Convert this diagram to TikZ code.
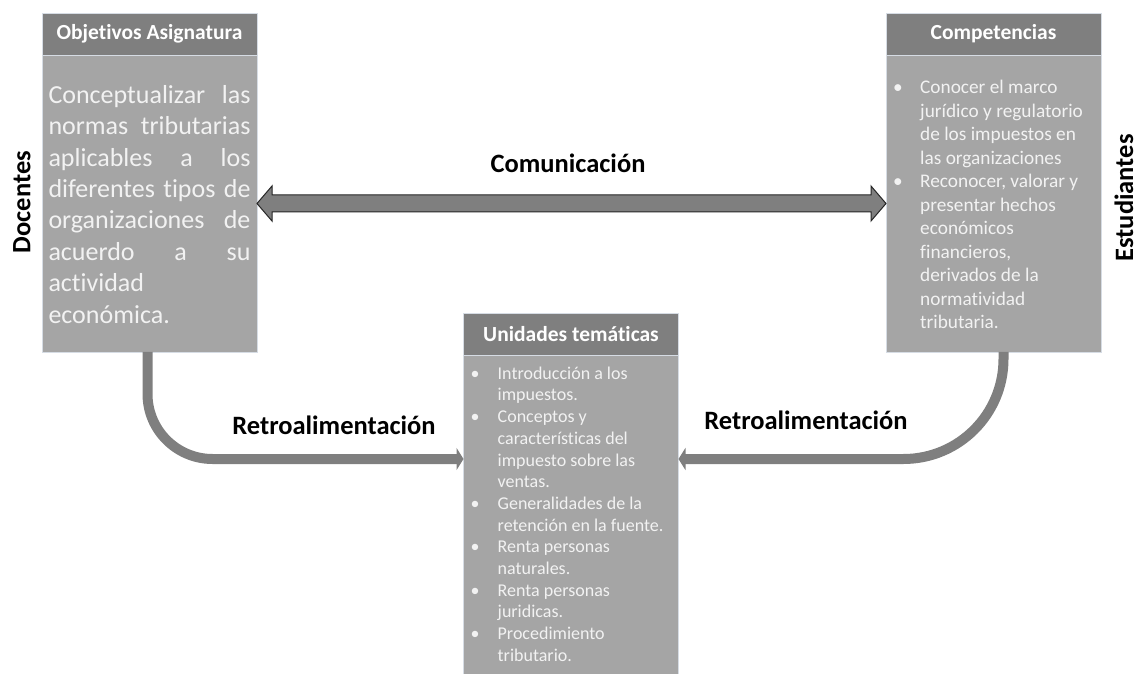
\documentclass[tikz,border=0pt]{standalone}
\usepackage{fontspec}
\setmainfont{Carlito}[Ligatures=NoCommon]
\usetikzlibrary{arrows.meta,positioning,calc}
\definecolor{oscuro}{HTML}{7F7F7F}
\definecolor{claro}{HTML}{A5A5A5}
\definecolor{borde}{HTML}{D6DCE4}
\definecolor{letra}{HTML}{F2F2F2}
\newcommand{\vin}{\makebox[27pt][l]{\textbullet}}
\newcommand{\sig}{\hspace*{27pt}}

\begin{document}
\begin{tikzpicture}[x=1pt,y=1pt,
    cabeza/.style={draw=borde,fill=oscuro,text=white,font=\bfseries\fontsize{21.5}{24}\selectfont,
        minimum width=215pt,minimum height=42pt,inner sep=0pt,outer sep=0pt},
    cuerpo/.style={draw=borde,fill=claro,minimum width=215pt,inner sep=0pt,outer sep=0pt},
    lista/.style={text=letra,align=left,inner sep=0pt,anchor=north west},
    etiqueta/.style={font=\bfseries\fontsize{26.5}{30}\selectfont},
    retro/.style={draw=oscuro,line width=10pt,rounded corners=#1,-{Triangle[length=7pt,width=22pt]}}]
    \useasboundingbox (0,0) rectangle (1138,673);

    \node[cabeza] (objh) at (149.5,639) {Objetivos Asignatura};
    \node[cuerpo,minimum height=297pt,below=0pt of objh] (objc) {};
    \node[text=letra,text width=202pt,align=justify,inner sep=0pt,anchor=north,
        font=\fontsize{26}{31.4}\selectfont] (objt)
        at ([yshift=-30pt]objc.north) {\tolerance=10000 \hyphenpenalty=10000
        Conceptualizar las\linebreak normas tributarias\linebreak
        aplicables a los\linebreak diferentes tipos de\linebreak organizaciones de\linebreak
        acuerdo a su\linebreak actividad\newline económica.};

    \node[cabeza] (comph) at (993.5,639) {Competencias};
    \node[cuerpo,minimum height=297pt,below=0pt of comph] (compc) {};
    \node[lista,font=\fontsize{19.3}{23.5}\selectfont] (compt) at ([xshift=7pt,yshift=-25pt]compc.north west)
        {\vin Conocer el marco\\ \sig jurídico y regulatorio\\ \sig de los impuestos en\\ \sig las organizaciones\\
        \vin Reconocer, valorar y\\ \sig presentar hechos\\ \sig económicos\\ \sig financieros,\\
        \sig derivados de la\\ \sig normatividad\\ \sig tributaria.};

    \node[cabeza] (unih) at (571,339) {Unidades temáticas};
    \node[cuerpo,minimum height=322pt,below=0pt of unih] (unic) {};
    \node[lista,font=\fontsize{18}{21.7}\selectfont] (unit) at ([xshift=7pt,yshift=-11.5pt]unic.north west)
        {\vin Introducción a los\\ \sig impuestos.\\ \vin Conceptos y\\ \sig características del\\
        \sig impuesto sobre las\\ \sig ventas.\\ \vin Generalidades de la\\ \sig retención en la fuente.\\
        \vin Renta personas\\ \sig naturales.\\ \vin Renta personas\\ \sig juridicas.\\
        \vin Procedimiento\\ \sig tributario.};

    \draw[fill=oscuro,draw=black!85,line width=1pt] (objc.east) -- ++(15,17.5) -- ++(0,-9)
        -- ($(compc.west)+(-15,8.5)$) -- ++(0,9) -- (compc.west) -- ++(-15,-17.5) -- ++(0,9)
        -- ($(objc.east)+(15,-8.5)$) -- ++(0,-9) -- cycle;
    \node[etiqueta] (comu) at (568,510) {Comunicación};

    \coordinate (retroy) at (0,214);
    \draw[retro=65pt] ([xshift=-2pt]objc.south) |- (unic.west |- retroy);
    \draw[retro=100pt] ([xshift=10pt]compc.south) |- (unic.east |- retroy);
    \node[etiqueta] (retroa) at (334,248) {Retroalimentación};
    \node[etiqueta] (retrob) at (806,253) {Retroalimentación};

    \node[etiqueta,rotate=90] (doc) at (22,471) {Docentes};
    \node[etiqueta,rotate=90] (est) at (1124,475) {Estudiantes};
\end{tikzpicture}
\end{document}
